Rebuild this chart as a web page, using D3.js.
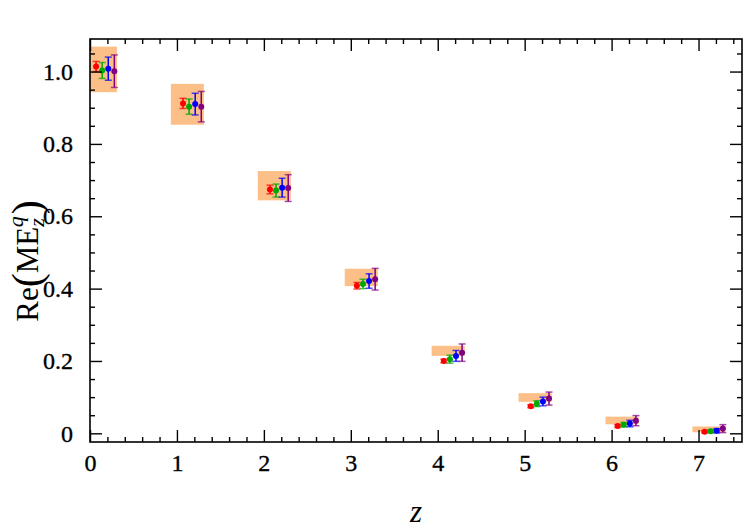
<!DOCTYPE html>
<html>
<head>
<meta charset="utf-8">
<script src="https://cdn.jsdelivr.net/npm/d3@7"></script>
<style>
  body { margin: 0; background: #fff; }
  svg text { font-family: "Liberation Serif", "DejaVu Serif", serif; }
</style>
</head>
<body>
<script>
// z positions of the data groups
const zValues = [0, 1, 2, 3, 4, 5, 6, 7];

// Shaded band per z: [low, high]
const bandLow  = [0.943, 0.853, 0.644, 0.407, 0.214, 0.087, 0.025, 0.003];
const bandHigh = [1.069, 0.966, 0.725, 0.455, 0.242, 0.111, 0.046, 0.019];

// four series, central values and errors
const seriesNames = ['red', 'green', 'blue', 'purple'];
const seriesColors = ['#ff0000', '#00a800', '#0000ff', '#800080'];
const seriesOffsets = [0.07, 0.14, 0.21, 0.28];

const redVals    = [1.014, 0.912, 0.674, 0.408, 0.200, 0.075, 0.020, 0.004];
const redErrs    = [0.014, 0.014, 0.012, 0.009, 0.005, 0.004, 0.004, 0.003];
const greenVals  = [1.003, 0.903, 0.671, 0.413, 0.205, 0.082, 0.024, 0.006];
const greenErrs  = [0.022, 0.021, 0.018, 0.013, 0.011, 0.008, 0.006, 0.004];
const blueVals   = [1.008, 0.910, 0.679, 0.421, 0.214, 0.088, 0.027, 0.007];
const blueErrs   = [0.032, 0.030, 0.026, 0.020, 0.015, 0.012, 0.009, 0.006];
const purpleVals = [1.001, 0.903, 0.678, 0.426, 0.223, 0.096, 0.035, 0.013];
const purpleErrs = [0.045, 0.042, 0.037, 0.030, 0.024, 0.018, 0.014, 0.011];

const allVals = [redVals, greenVals, blueVals, purpleVals];
const allErrs = [redErrs, greenErrs, blueErrs, purpleErrs];

const xTicks = [0, 1, 2, 3, 4, 5, 6, 7];
const yTicks = [0, 0.2, 0.4, 0.6, 0.8, 1.0];
const yTickLabels = ['0', '0.2', '0.4', '0.6', '0.8', '1.0'];

const width = 747, height = 532;
const margin = { left: 90, right: 5, top: 39, bottom: 90 };

const svg = d3.select('body').append('svg')
  .attr('width', width)
  .attr('height', height);

const x = d3.scaleLinear().domain([0, 7.5]).range([margin.left, width - margin.right]);
const y = d3.scaleLinear().domain([-0.024, 1.09]).range([height - margin.bottom, margin.top]);

const plot = svg.append('g');

svg.append('clipPath').attr('id', 'clip')
  .append('rect')
  .attr('x', x(0)).attr('y', y(1.09))
  .attr('width', x(7.5) - x(0)).attr('height', y(-0.024) - y(1.09));

// bands
plot.append('g').attr('clip-path', 'url(#clip)')
  .selectAll('rect')
  .data(zValues)
  .join('rect')
  .attr('x', (d) => x(d - 0.07))
  .attr('width', x(0.38) - x(0))
  .attr('y', (d, i) => y(bandHigh[i]))
  .attr('height', (d, i) => y(bandLow[i]) - y(bandHigh[i]))
  .attr('fill', '#fdbf88');

// error bars and markers
const capHalf = 3.5;
seriesNames.forEach((name, s) => {
  const g = plot.append('g').attr('class', name);
  const col = seriesColors[s];
  const pts = zValues.map((z, i) => ({ z: z + seriesOffsets[s], v: allVals[s][i], e: allErrs[s][i] }));

  g.selectAll('line.bar').data(pts).join('line')
    .attr('class', 'bar')
    .attr('x1', (d) => x(d.z)).attr('x2', (d) => x(d.z))
    .attr('y1', (d) => y(d.v - d.e)).attr('y2', (d) => y(d.v + d.e))
    .attr('stroke', col).attr('stroke-width', 1.5);

  ['lo', 'hi'].forEach((k) => {
    g.selectAll('line.cap' + k).data(pts).join('line')
      .attr('class', 'cap' + k)
      .attr('x1', (d) => x(d.z) - capHalf).attr('x2', (d) => x(d.z) + capHalf)
      .attr('y1', (d) => y(k === 'lo' ? d.v - d.e : d.v + d.e))
      .attr('y2', (d) => y(k === 'lo' ? d.v - d.e : d.v + d.e))
      .attr('stroke', col).attr('stroke-width', 1.5).attr('stroke-opacity', 0.7);
  });

  g.selectAll('circle').data(pts).join('circle')
    .attr('cx', (d) => x(d.z)).attr('cy', (d) => y(d.v))
    .attr('r', 3)
    .attr('fill', col);
});

// axes (ticks inward on all four sides)
const xMinor = d3.range(0, 7.5001, 0.2).filter((v) => Math.abs(v - Math.round(v)) > 1e-6);
const yMinor = d3.range(0, 1.09, 0.05).filter((v) => Math.abs(v * 5 - Math.round(v * 5)) > 1e-6);

function styleAxis(g) {
  g.select('.domain').remove();
  g.selectAll('line').attr('stroke', '#000').attr('stroke-width', 1.4);
  g.selectAll('text').attr('font-size', 24).attr('fill', '#000')
    .attr('stroke', '#000').attr('stroke-width', 0.35);
}

const x0 = x(0), x1 = x(7.5), yb = y(-0.024), yt = y(1.09);

// bottom
svg.append('g').attr('transform', `translate(0,${yb})`)
  .call(d3.axisBottom(x).tickValues(xMinor).tickSize(-5).tickFormat(''))
  .call(styleAxis);
svg.append('g').attr('transform', `translate(0,${yb})`)
  .call(d3.axisBottom(x).tickValues(xTicks).tickSize(-12).tickPadding(5).tickFormat(d3.format('d')))
  .call(styleAxis)
  .selectAll('text').attr('dy', '1.0em');
// top
svg.append('g').attr('transform', `translate(0,${yt})`)
  .call(d3.axisTop(x).tickValues(xMinor).tickSize(-5).tickFormat(''))
  .call(styleAxis);
svg.append('g').attr('transform', `translate(0,${yt})`)
  .call(d3.axisTop(x).tickValues(xTicks).tickSize(-12).tickFormat(''))
  .call(styleAxis);
// left
svg.append('g').attr('transform', `translate(${x0},0)`)
  .call(d3.axisLeft(y).tickValues(yMinor).tickSize(-5).tickFormat(''))
  .call(styleAxis);
svg.append('g').attr('transform', `translate(${x0},0)`)
  .call(d3.axisLeft(y).tickValues(yTicks).tickSize(-12).tickPadding(17)
    .tickFormat((d, i) => yTickLabels[i]))
  .call(styleAxis);
// right
svg.append('g').attr('transform', `translate(${x1},0)`)
  .call(d3.axisRight(y).tickValues(yMinor).tickSize(-5).tickFormat(''))
  .call(styleAxis);
svg.append('g').attr('transform', `translate(${x1},0)`)
  .call(d3.axisRight(y).tickValues(yTicks).tickSize(-12).tickFormat(''))
  .call(styleAxis);

// frame
svg.append('rect')
  .attr('x', x0).attr('y', yt)
  .attr('width', x1 - x0).attr('height', yb - yt)
  .attr('fill', 'none').attr('stroke', '#000').attr('stroke-width', 1.6);

// x label
svg.append('text')
  .attr('x', (x0 + x1) / 2).attr('y', 522)
  .attr('text-anchor', 'middle')
  .attr('font-size', 31).attr('font-style', 'italic')
  .text('z');

// y label: Re(ME_z^q)
const yl = svg.append('text')
  .attr('transform', `translate(38,261) rotate(-90)`)
  .attr('text-anchor', 'middle')
  .attr('font-size', 31);
yl.append('tspan').text('Re');
yl.append('tspan').attr('font-size', 42).attr('dy', 3).text('(');
yl.append('tspan').attr('dy', -3).text('ME');
yl.append('tspan').attr('font-size', 22).attr('font-style', 'italic').attr('dy', 6).text('z');
yl.append('tspan').attr('font-size', 22).attr('font-style', 'italic').attr('dx', -9).attr('dy', -21).text('q');
yl.append('tspan').attr('font-size', 42).attr('dx', 2).attr('dy', 18).text(')');
</script>
</body>
</html>
